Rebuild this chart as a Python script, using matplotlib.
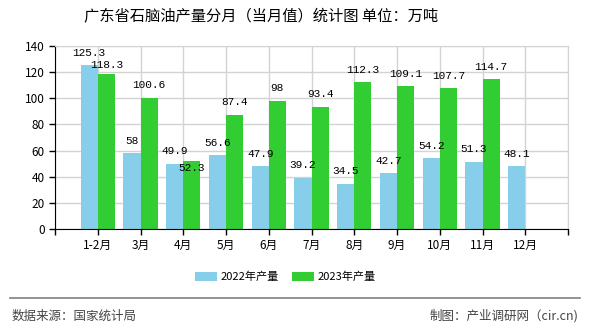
import matplotlib.pyplot as plt
import numpy as np

plt.rcParams['font.family'] = ['Noto Sans CJK SC', 'DejaVu Sans']

months = ['1-2月', '3月', '4月', '5月', '6月', '7月', '8月', '9月', '10月', '11月', '12月']
output_2022 = [125.3, 58, 49.9, 56.6, 47.9, 39.2, 34.5, 42.7, 54.2, 51.3, 48.1]
output_2023 = [118.3, 100.6, 52.3, 87.4, 98, 93.4, 112.3, 109.1, 107.7, 114.7]
labels_2022 = ['125.3', '58', '49.9', '56.6', '47.9', '39.2', '34.5', '42.7', '54.2', '51.3', '48.1']
labels_2023 = ['118.3', '100.6', '52.3', '87.4', '98', '93.4', '112.3', '109.1', '107.7', '114.7']

fig = plt.figure(figsize=(5.9, 3.3), dpi=100)
ax = fig.add_axes([55 / 590, 1 - 229 / 330, 513 / 590, 183 / 330])

x = np.arange(1, len(months) + 1)
w = 0.4
blue = '#87ceeb'
green = '#32cd32'
ax.bar(x - w / 2, output_2022, w, color=blue, label='2022年产量', zorder=2)
ax.bar(x[:len(output_2023)] + w / 2, output_2023, w, color=green, label='2023年产量', zorder=2)

mono = ['Liberation Mono', 'DejaVu Sans Mono']
# labels that collide with their neighbour get nudged, like the original
nudge_2023 = {0: 6.5, 2: -5}

for xi, v, t in zip(x - w / 2, output_2022, labels_2022):
    ax.annotate(t, (xi, v), xytext=(0, 9), textcoords='offset points',
                ha='center', va='center', fontsize=8, family=mono, zorder=3)
for i, (xi, v, t) in enumerate(zip(x[:len(output_2023)] + w / 2, output_2023, labels_2023)):
    ax.annotate(t, (xi, v), xytext=(0, nudge_2023.get(i, 9)), textcoords='offset points',
                ha='center', va='center', fontsize=8, family=mono, zorder=3)

ax.set_xlim(0, 12)
ax.set_ylim(0, 140)
ax.set_yticks(range(0, 141, 20))
ax.set_xticks(range(0, 13))
ax.set_xticklabels([''] + months + [''])
ax.tick_params(axis='both', labelsize=8.5, length=4, width=1, color='black')
ax.grid(True, color='#d3d3d3', linewidth=1, zorder=0)
ax.spines['top'].set_color('#d3d3d3')
ax.spines['right'].set_color('#d3d3d3')
ax.spines['left'].set_color('black')
ax.spines['bottom'].set_color('black')

fig.text(0.442, 1 - 17 / 330, '广东省石脑油产量分月（当月值）统计图 单位：万吨',
         ha='center', va='center', fontsize=11)

fig.legend(loc='center', bbox_to_anchor=(0.483, 1 - 277 / 330), ncol=2, frameon=False,
           fontsize=8, handlelength=2.0, handleheight=0.8, columnspacing=1.2, handletextpad=0.3)

fig.add_artist(plt.Line2D([10 / 590, 580 / 590], [1 - 298 / 330, 1 - 298 / 330],
                          color='#808080', linewidth=1.2))
fig.text(12 / 590, 1 - 316 / 330, '数据来源：国家统计局', ha='left', va='center',
         fontsize=9, color='#444444')
fig.text(578 / 590, 1 - 316 / 330, '制图：产业调研网（cir.cn)', ha='right', va='center',
         fontsize=9, color='#444444')

fig.savefig('out.png', dpi=100)
